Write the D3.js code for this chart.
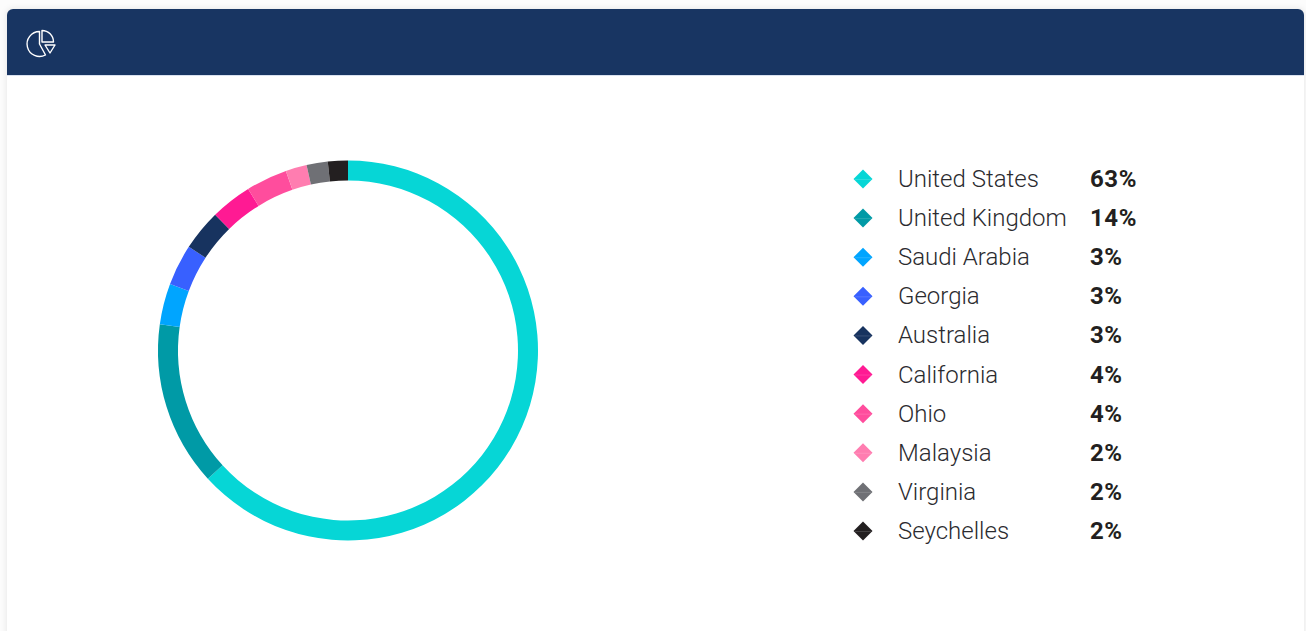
<!DOCTYPE html>
<html>
<head>
<meta charset="utf-8">
<script src="https://cdn.jsdelivr.net/npm/d3@7"></script>
<style>
    html, body { margin: 0; padding: 0; background: #fcfcfc; overflow: hidden; }
    .name { font-family: Roboto, sans-serif; font-weight: 300; font-size: 24px; fill: #2b2b2f; }
    .pct { font-family: Roboto, sans-serif; font-weight: 700; font-size: 24px; fill: #231f20; letter-spacing: 0.6px; }
</style>
</head>
<body>
<div id="chart"></div>
<script>
const width = 1306, height = 631;

const countries = ['United States', 'United Kingdom', 'Saudi Arabia', 'Georgia', 'Australia',
    'California', 'Ohio', 'Malaysia', 'Virginia', 'Seychelles'];
const shares = [63.2, 14, 3.49, 3.49, 3.49, 3.51, 3.51, 1.8, 1.8, 1.7];
const colors = ['#06d6d6', '#009aa6', '#00a5ff', '#3860ff', '#17335f',
    '#ff1a93', '#ff4d9d', '#ff7db0', '#6f7075', '#231f20'];

const svg = d3.select('#chart').append('svg')
    .attr('width', width)
    .attr('height', height)
    .style('display', 'block');

// card, then the navy header on top of it
svg.append('rect')
    .attr('x', 7).attr('y', 9)
    .attr('width', 1297).attr('height', 640)
    .attr('rx', 6)
    .attr('fill', '#fff')
    .style('filter', 'drop-shadow(0 0 3px rgba(0,0,0,0.1))');

svg.append('path')
    .attr('d', 'M7 75V15a6 6 0 0 1 6-6H1298a6 6 0 0 1 6 6V75Z')
    .attr('fill', '#183562');

// thin pale line under the header
svg.append('rect')
    .attr('x', 7).attr('y', 75)
    .attr('width', 1297).attr('height', 1)
    .attr('fill', '#d9e1ef');

// pie icon in the header
const icon = svg.append('g')
    .attr('transform', 'translate(41,43)')
    .attr('fill', 'none')
    .attr('stroke', '#fff')
    .attr('stroke-width', 1.4)
    .attr('stroke-linejoin', 'round');
icon.append('path').attr('d', 'M-1.5-11.5A12.5 12.5 0 1 0 4.5 12L-1.5 1Z');
icon.append('path').attr('d', 'M1-12.5A11.5 11.5 0 0 1 12.5-1H1Z');
icon.append('path').attr('d', 'M4 2H14L9 10Z');

// ring
const pie = d3.pie().sort(null).value(d => d);
const arc = d3.arc().innerRadius(170).outerRadius(190);

svg.append('g')
    .attr('transform', 'translate(348,350.5)')
    .selectAll('path')
    .data(pie(shares))
    .enter()
    .append('path')
    .attr('d', arc)
    .attr('fill', (d, i) => colors[i]);

// legend
const y = d3.scalePoint()
    .domain(countries)
    .range([179, 531]);

const rows = svg.append('g')
    .selectAll('g')
    .data(countries)
    .enter()
    .append('g')
    .attr('transform', d => `translate(0,${y(d)})`);

rows.append('path')
    .attr('d', 'M853.5 0L863-9.5L872.5 0L863 9.5Z')
    .attr('fill', (d, i) => colors[i]);

// pale seam across each diamond
rows.append('line')
    .attr('x1', 855).attr('x2', 871)
    .attr('y1', 0.5).attr('y2', 0.5)
    .attr('stroke', '#fff')
    .attr('stroke-opacity', 0.15);

rows.append('text')
    .classed('name', true)
    .attr('x', 898)
    .attr('y', 8)
    .text(d => d);

rows.append('text')
    .classed('pct', true)
    .attr('x', 1090)
    .attr('y', 8)
    .text((d, i) => Math.round(shares[i]) + '%');
</script>
</body>
</html>
